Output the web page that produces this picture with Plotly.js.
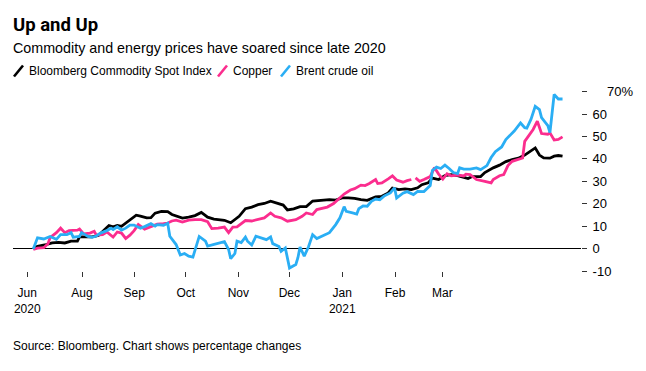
<!DOCTYPE html>
<html>
<head>
<meta charset="utf-8">
<script src="https://cdn.plot.ly/plotly-3.0.1.min.js"></script>
<style>
html,body{margin:0;padding:0;background:#fff;}
#chart{width:646px;height:371px;}
</style>
</head>
<body>
<div id="chart"></div>
<script>
// ---------- DATA (percentage change since 1 Jul 2020) ----------
const bcomDates = ["2020-07-01","2020-07-03","2020-07-07","2020-07-10","2020-07-13","2020-07-16","2020-07-19","2020-07-22","2020-07-23","2020-07-29",
"2020-08-01","2020-08-03","2020-08-06","2020-08-08","2020-08-10","2020-08-12","2020-08-15","2020-08-17","2020-08-19","2020-08-21","2020-08-24","2020-08-26","2020-08-28","2020-08-31",
"2020-09-03","2020-09-05","2020-09-08","2020-09-10","2020-09-13","2020-09-16","2020-09-19","2020-09-22","2020-09-25","2020-09-28","2020-09-30",
"2020-10-03","2020-10-05","2020-10-07","2020-10-10","2020-10-13","2020-10-16","2020-10-19","2020-10-22","2020-10-26","2020-10-28","2020-10-30",
"2020-11-02","2020-11-05","2020-11-08","2020-11-11","2020-11-15","2020-11-19","2020-11-22","2020-11-25","2020-11-28",
"2020-12-01","2020-12-04","2020-12-07","2020-12-11","2020-12-14","2020-12-17","2020-12-19","2020-12-22","2020-12-25","2020-12-28","2020-12-31",
"2021-01-02","2021-01-05","2021-01-07","2021-01-10","2021-01-13","2021-01-16","2021-01-19","2021-01-22","2021-01-24","2021-01-26","2021-01-30",
"2021-02-01","2021-02-03","2021-02-05","2021-02-08","2021-02-11","2021-02-14","2021-02-17","2021-02-20","2021-02-23","2021-02-25","2021-02-27",
"2021-03-01","2021-03-04","2021-03-06","2021-03-08","2021-03-10"];
const bcomValues = [0,1.0,1.8,2.5,2.8,2.5,3.3,3.3,5.2,5.2,
5.8,7.7,10.3,9.7,10.3,9.9,12.2,13.7,14.9,14.5,13.7,13.8,15.8,16.6,
16.5,15.2,14.4,13.6,14.0,14.7,16.1,14.0,13.1,12.9,12.6,
11.5,12.9,14.4,17.8,18.5,19.6,20.1,21.1,20.1,19.4,17.2,
17.7,18.7,18.7,21.2,21.4,21.8,21.6,22.6,22.6,
22.4,21.8,21.5,23.0,23.3,24.8,27.0,26.3,26.6,26.3,27.1,
28.5,29.3,31.4,30.8,32.5,33.0,32.5,31.9,31.2,32.1,32.1,
33.9,35.0,36.0,37.2,38.8,39.7,40.3,41.7,43.5,44.9,41.7,
40.4,40.3,41.2,41.5,41.2];

const copperDates = ["2020-07-01","2020-07-03","2020-07-06","2020-07-08","2020-07-09","2020-07-12","2020-07-14","2020-07-16","2020-07-18","2020-07-22","2020-07-23","2020-07-25","2020-07-28","2020-07-30","2020-07-31",
"2020-08-03","2020-08-05","2020-08-08","2020-08-10","2020-08-12","2020-08-14","2020-08-16","2020-08-18","2020-08-20","2020-08-23","2020-08-26","2020-08-29",
"2020-09-01","2020-09-03","2020-09-05","2020-09-07","2020-09-10","2020-09-13","2020-09-16","2020-09-19","2020-09-22","2020-09-24","2020-09-27","2020-09-30",
"2020-10-02","2020-10-04","2020-10-06","2020-10-10","2020-10-13","2020-10-16","2020-10-19","2020-10-22","2020-10-24","2020-10-27","2020-10-30",
"2020-11-03","2020-11-06","2020-11-08","2020-11-11","2020-11-13","2020-11-16","2020-11-18","2020-11-21","2020-11-23","2020-11-26","2020-11-29",
"2020-12-01","2020-12-04","2020-12-06","2020-12-08","2020-12-11","2020-12-12","2020-12-14","2020-12-17","2020-12-19","2020-12-21","2020-12-24","2020-12-26","2020-12-28","2020-12-29","2020-12-30",
"2021-01-01","2021-01-03","2021-01-06","2021-01-08","2021-01-10","2021-01-12","2021-01-14","2021-01-16","2021-01-19","2021-01-22","2021-01-23","2021-01-25","2021-01-28",
"2021-02-01","2021-02-04","2021-02-05","2021-02-08","2021-02-10","2021-02-12","2021-02-14","2021-02-17","2021-02-19","2021-02-20","2021-02-22","2021-02-24","2021-02-26","2021-02-28",
"2021-03-03","2021-03-04","2021-03-06","2021-03-08","2021-03-10"];
const copperValues = [-0.4,0.2,0.4,2.2,4.9,7.1,9.1,7.1,8.0,8.2,8.7,6.5,6.9,7.7,6.0,
6.2,7.4,5.1,7.4,6.9,4.5,6.0,8.0,10.7,8.7,9.8,10.9,
11.1,11.4,12.3,12.7,11.8,12.7,12.9,12.9,12.0,8.9,9.1,9.6,
7.1,9.6,9.7,12.5,12.3,12.9,13.7,15.9,14.4,13.7,12.2,
12.9,14.4,15.9,15.2,17.4,18.1,18.5,20.1,21.8,24.3,26.1,
26.7,28.3,28.1,29.0,30.8,29.0,29.3,31.1,32.4,30.6,29.6,30.3,30.8,null,31.5,
30.0,30.8,32.1,36.1,33.2,31.0,33.4,32.4,32.8,32.4,33.2,33.0,30.8,
30.0,29.3,30.8,32.5,33.0,37.0,38.9,39.7,40.4,47.8,50.4,53.1,56.8,51.3,
51.0,51.6,48.4,48.7,49.8];

const brentDates = ["2020-07-01","2020-07-03","2020-07-06","2020-07-09","2020-07-12","2020-07-14","2020-07-17","2020-07-19","2020-07-20","2020-07-23","2020-07-24","2020-07-27","2020-07-29","2020-07-31",
"2020-08-02","2020-08-05","2020-08-07","2020-08-08","2020-08-10","2020-08-12","2020-08-14","2020-08-16","2020-08-18","2020-08-21","2020-08-23","2020-08-26","2020-08-28","2020-08-29",
"2020-09-01","2020-09-03","2020-09-04","2020-09-06","2020-09-07","2020-09-09","2020-09-11","2020-09-13","2020-09-15","2020-09-18","2020-09-21","2020-09-22","2020-09-25","2020-09-28","2020-09-30",
"2020-10-02","2020-10-03","2020-10-05","2020-10-06","2020-10-08","2020-10-10","2020-10-11","2020-10-13","2020-10-15","2020-10-18","2020-10-20","2020-10-22","2020-10-23","2020-10-26","2020-10-27","2020-10-29","2020-10-30","2020-10-31",
"2020-11-03","2020-11-04","2020-11-05","2020-11-07","2020-11-09","2020-11-11","2020-11-13","2020-11-16","2020-11-19","2020-11-22","2020-11-24","2020-11-26","2020-11-27","2020-11-30",
"2020-12-02","2020-12-03","2020-12-05","2020-12-07","2020-12-09","2020-12-11","2020-12-13","2020-12-15","2020-12-18","2020-12-20","2020-12-21","2020-12-24","2020-12-26","2020-12-29","2020-12-31",
"2021-01-03","2021-01-06","2021-01-07","2021-01-09","2021-01-11","2021-01-13","2021-01-15","2021-01-17","2021-01-19","2021-01-20","2021-01-22","2021-01-25","2021-01-28","2021-01-30",
"2021-02-02","2021-02-04","2021-02-06","2021-02-09","2021-02-11","2021-02-13","2021-02-15","2021-02-18","2021-02-20","2021-02-21","2021-02-23","2021-02-25","2021-02-27","2021-02-28",
"2021-03-03","2021-03-04","2021-03-05","2021-03-06","2021-03-08","2021-03-10"];
const brentValues = [-0.2,4.8,4.3,5.4,4.1,6.2,6.2,7.1,5.1,5.4,7.1,5.4,5.0,5.6,
6.9,8.0,9.1,8.5,9.7,8.2,9.1,10.5,10.5,9.1,9.8,11.1,10.0,10.7,
10.4,11.3,5.5,3.1,1.8,-2.9,-2.2,-3.4,-3.8,5.4,3.3,1.1,1.8,2.4,3.1,
-0.4,-4.5,-2.2,3.3,2.7,5.1,3.3,1.6,5.5,4.8,4.0,5.2,2.2,0.9,-1.2,0.3,-4.1,-8.7,
-7.1,-4.1,0.7,-3.4,0.7,6.2,4.5,5.8,7.1,10.7,13.7,18.7,16.6,15.9,
15.4,17.8,19.0,18.9,21.1,22.1,21.8,23.4,24.8,27.1,22.5,24.7,25.4,24.1,25.5,
25.4,28.1,34.8,36.3,35.7,37.2,35.7,33.9,33.4,36.0,35.4,35.4,36.0,35.2,
37.0,40.6,43.2,45.3,48.6,50.6,52.4,56.0,53.9,53.7,57.7,63.4,62.0,58.4,
54.8,51.7,61.5,68.7,66.7,66.7];

const seriesNames = ["Bloomberg Commodity Spot Index", "Copper", "Brent crude oil"];
const seriesColors = ["#000000", "#fb2d8e", "#2aaef4"];

const xTickDates = ["2020-06-28 03:00","2020-07-24 05:00","2020-08-18 02:00","2020-09-11 14:00","2020-10-06 15:00","2020-10-30 22:00","2020-11-25 03:00","2020-12-20 06:00","2021-01-11 18:00"];
const xTickLabels = ["Jun<br>2020","Aug","Sep","Oct","Nov","Dec","Jan<br>2021","Feb","Mar"];
const yTickValues = [-10,0,10,20,30,40,50,60,70];
const yTickLabels = ["-10","0","10","20","30","40","50","60","\u00a0\u00a0\u00a0\u00a070%"];

// ---------- LAYOUT ----------
const FONT = "Liberation Sans, Arial, sans-serif";
const M = {l:13, r:65, t:88, b:100};
const FW = 646, FH = 371;
const PW = FW - M.l - M.r, PH = FH - M.t - M.b;
const px = X => (X - M.l) / PW;
const py = Y => (FH - M.b - Y) / PH;

const traces = [
  {x: bcomDates, y: bcomValues, name: seriesNames[0], color: seriesColors[0]},
  {x: copperDates, y: copperValues, name: seriesNames[1], color: seriesColors[1]},
  {x: brentDates, y: brentValues, name: seriesNames[2], color: seriesColors[2]}
].map(s => ({
  type: "scatter", mode: "lines", x: s.x, y: s.y, name: s.name,
  line: {color: s.color, width: 2.8, shape: "linear"},
  connectgaps: false, hoverinfo: "skip", showlegend: false
}));

const legendItems = [
  {iconX: 14, textX: 27},
  {iconX: 218, textX: 231},
  {iconX: 281, textX: 294}
];
const shapes = legendItems.map((it, i) => ({
  type: "line", xref: "paper", yref: "paper",
  x0: px(it.iconX), y0: py(76.5), x1: px(it.iconX + 9), y1: py(65.5),
  line: {color: seriesColors[i], width: 2.6}
}));
const annotations = [
  {text: "<b>Up and Up</b>", x: px(11), y: py(25.5), font: {family: "Roboto, " + FONT, size: 18.5, color: "#000"}},
  {text: "Commodity and energy prices have soared since late 2020", x: px(11), y: py(47.5), font: {family: FONT, size: 14.3, color: "#000"}},
  {text: "Source: Bloomberg. Chart shows percentage changes", x: px(11), y: py(345.5), font: {family: FONT, size: 12, color: "#000"}}
].concat(legendItems.map((it, i) => ({
  text: seriesNames[i], x: px(it.textX), y: py(71), font: {family: FONT, size: 12, color: "#000"}
}))).map(a => Object.assign({xref: "paper", yref: "paper", xanchor: "left", yanchor: "middle", showarrow: false}, a));

const layout = {
  width: FW, height: FH,
  margin: M,
  paper_bgcolor: "#fff", plot_bgcolor: "#fff",
  font: {family: FONT, size: 12, color: "#000"},
  showlegend: false,
  hovermode: false,
  xaxis: {
    type: "date",
    range: ["2020-06-21 08:00", "2021-03-18 19:00"],
    tickmode: "array", tickvals: xTickDates, ticktext: xTickLabels,
    ticks: "outside", ticklen: 5, tickwidth: 1, tickcolor: "#333",
    showgrid: false, zeroline: false, showline: false,
    tickfont: {family: FONT, size: 12, color: "#000"},
    ticklabelstandoff: 6,
    fixedrange: true
  },
  yaxis: {
    side: "right",
    range: [-10, 71.6],
    tickmode: "array", tickvals: yTickValues, ticktext: yTickLabels,
    ticks: "outside", ticklen: 5, tickwidth: 1, tickcolor: "#333",
    showgrid: false, showline: false,
    zeroline: true, zerolinecolor: "#000", zerolinewidth: 1,
    tickfont: {family: FONT, size: 13, color: "#000"},
    ticklabelstandoff: 3,
    fixedrange: true
  },
  shapes: shapes,
  annotations: annotations
};

Plotly.newPlot("chart", traces, layout, {displayModeBar: false, staticPlot: true});
</script>
</body>
</html>
